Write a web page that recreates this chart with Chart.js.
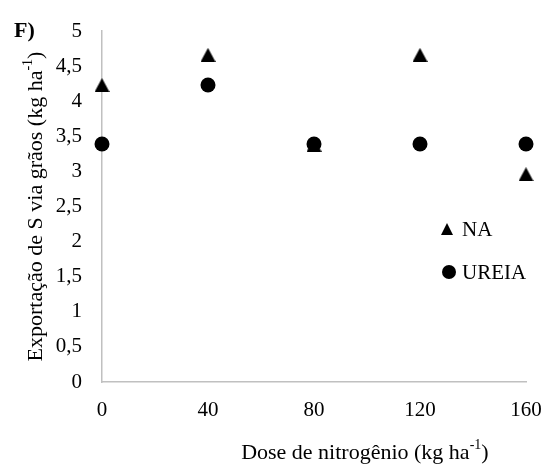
<!DOCTYPE html>
<html><head><meta charset="utf-8">
<script src="https://cdn.jsdelivr.net/npm/chart.js@4"></script>
<style>html,body{margin:0;padding:0;background:#fff}#c{display:block}</style>
</head><body>
<canvas id="c" width="551" height="469"></canvas>
<script>
const doses = [0, 40, 80, 120, 160];
const naValues = [4.23, 4.66, 3.38, 4.66, 2.96];
const ureiaValues = [3.39, 4.23, 3.39, 3.39, 3.39];
const xTickValues = [0, 40, 80, 120, 160];
const yTickValues = [0, 0.5, 1, 1.5, 2, 2.5, 3, 3.5, 4, 4.5, 5];
const seriesLabels = ['NA', 'UREIA'];
const panelLabel = 'F)';
const xTitleParts = [['Dose de nitrogênio (kg ha', false], ['-1', true], [')', false]];
const yTitleParts = [['Exportação de S via grãos (kg ha', false], ['-1', true], [')', false]];

const FONT = '"Liberation Serif", "Times New Roman", serif';

function triangleImage(w, h) {
  const c = document.createElement('canvas');
  c.width = w; c.height = h;
  const g = c.getContext('2d');
  g.fillStyle = '#000';
  g.beginPath(); g.moveTo(w / 2, 0); g.lineTo(w, h); g.lineTo(0, h); g.closePath(); g.fill();
  return c;
}
const triBig = triangleImage(15, 14);
const triSmall = triangleImage(12, 12);

function drawParts(ctx, parts, cx, cy, size) {
  let total = 0;
  const widths = parts.map(([t, sup]) => {
    ctx.font = (sup ? Math.round(size * 0.65) : size) + 'px ' + FONT;
    const w = ctx.measureText(t).width; total += w; return w;
  });
  let x = cx - total / 2;
  ctx.textBaseline = 'middle';
  ctx.textAlign = 'left';
  parts.forEach(([t, sup], i) => {
    ctx.font = (sup ? Math.round(size * 0.65) : size) + 'px ' + FONT;
    ctx.fillText(t, x, sup ? cy - size * 0.35 : cy);
    x += widths[i];
  });
}

const decor = {
  id: 'decor',
  afterDraw(chart) {
    const ctx = chart.ctx, ca = chart.chartArea;
    ctx.save();
    ctx.fillStyle = '#000';
    drawParts(ctx, xTitleParts, ca.left + (ca.right - ca.left) * 0.62, 453, 22);
    ctx.save();
    ctx.translate(36, (ca.top + ca.bottom) / 2);
    ctx.rotate(-Math.PI / 2);
    drawParts(ctx, yTitleParts, 0, 0, 22);
    ctx.restore();
    ctx.font = 'bold 22px ' + FONT;
    ctx.textAlign = 'left'; ctx.textBaseline = 'middle';
    ctx.fillText(panelLabel, 14, 31);
    const lx = ca.left + 345, ly = 229, gap = 43;
    ctx.drawImage(triSmall, lx - 6, ly - 6, 12, 12);
    ctx.beginPath(); ctx.arc(lx + 2, ly + gap, 7, 0, Math.PI * 2); ctx.fill();
    ctx.font = '21px ' + FONT;
    ctx.fillText(seriesLabels[0], lx + 15, ly + 1);
    ctx.fillText(seriesLabels[1], lx + 15, ly + gap + 1);
    ctx.restore();
  }
};

new Chart(document.getElementById('c'), {
  type: 'scatter',
  data: {
    datasets: [
      { label: seriesLabels[0], data: doses.map((d, i) => ({ x: d, y: naValues[i] })),
        pointStyle: triBig, backgroundColor: '#000', borderColor: '#000', clip: false },
      { label: seriesLabels[1], data: doses.map((d, i) => ({ x: d, y: ureiaValues[i] })),
        pointStyle: 'circle', pointRadius: 7.5, backgroundColor: '#000', borderColor: '#000', borderWidth: 0, clip: false }
    ]
  },
  options: {
    responsive: false,
    animation: false,
    devicePixelRatio: 1,
    layout: { padding: { top: 31, right: 25, left: 0, bottom: 0 } },
    plugins: { legend: { display: false }, tooltip: { enabled: false } },
    scales: {
      x: {
        type: 'linear', min: 0, max: 160,
        afterBuildTicks: s => { s.ticks = xTickValues.map(v => ({ value: v })); },
        afterFit: s => { s.height = 87; s.paddingLeft = 0; s.paddingRight = 0; },
        grid: { display: false, drawTicks: false },
        border: { color: '#c0c0c0', width: 1.5 },
        ticks: { color: '#000', font: { family: FONT, size: 21 }, padding: 16, maxRotation: 0 }
      },
      y: {
        type: 'linear', min: 0, max: 5,
        afterBuildTicks: s => { s.ticks = yTickValues.map(v => ({ value: v })); },
        afterFit: s => { s.width = 102; s.paddingTop = 0; s.paddingBottom = 0; },
        grid: { display: false, drawTicks: false },
        border: { color: '#c0c0c0', width: 1.5 },
        ticks: { color: '#000', font: { family: FONT, size: 21 }, padding: 20,
          callback: v => String(v).replace('.', ',') }
      }
    }
  },
  plugins: [decor]
});
</script>
</body></html>
